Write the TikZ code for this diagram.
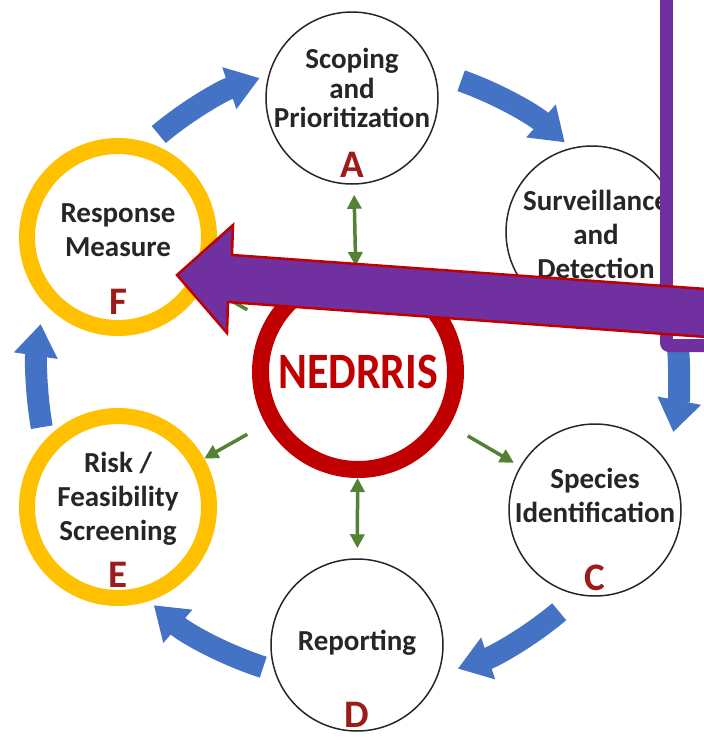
\documentclass[tikz,border=0pt]{standalone}
\usepackage{fontspec}
\setmainfont{Carlito}
\usetikzlibrary{arrows.meta}

\definecolor{cycblue}{HTML}{4472C4}
\definecolor{linkgreen}{HTML}{548235}
\definecolor{ringgold}{HTML}{FFC000}
\definecolor{hubred}{HTML}{C00000}
\definecolor{tagred}{HTML}{9E1B1B}
\definecolor{pointer}{HTML}{7030A0}
\definecolor{ink}{HTML}{262626}

\tikzset{
  stage/.style={circle, draw=black!85, line width=1.5pt, fill=white, minimum size=172pt, inner sep=0pt},
  picked/.style={circle, draw=ringgold, line width=16pt, fill=white, minimum size=182pt, inner sep=0pt},
  hubring/.style={circle, draw=hubred, line width=17pt, fill=white, minimum size=195pt, inner sep=0pt,
    text=hubred, text depth=0pt, font=\bfseries\fontsize{51}{51}\selectfont},
  stagetext/.style={align=center, text=ink, font=\bfseries\fontsize{29}{34}\selectfont},
  stagetag/.style={text=tagred, font=\bfseries\fontsize{39}{39}\selectfont},
  cyclearrow/.style={draw=cycblue, line width=22pt, -{Triangle[width=42pt,length=32pt]}},
  greenlink/.style={draw=linkgreen, line width=3.5pt, -{Triangle[width=14pt,length=14pt]}},
  twoway/.style={greenlink, {Triangle[width=14pt,length=14pt]}-{Triangle[width=14pt,length=14pt]}},
  panel/.style={fill=pointer, rounded corners=9pt},
  bigpointer/.style={fill=pointer, draw=hubred, line width=2.5pt, line join=miter}
}

\begin{document}
\begin{tikzpicture}[x=1pt,y=1pt]
    \useasboundingbox (0,0) rectangle (704,-742);
    \clip (0,0) rectangle (704,-742);
    \fill[white] (0,0) rectangle (704,-742);

    % stages round the hub
    \node[stage] (A) at (352,-98) {};
    \node[stage] (B) at (592,-232) {};
    \node[stage] (C) at (595,-510) {};
    \node[stage] (D) at (357,-645) {};
    \node[picked] (E) at (118,-507) {};
    \node[picked] (F) at (118,-237) {};
    \node[hubring] (hub) at (358,-372) {\scalebox{0.86}[1]{NEDRRIS}};

    \node[stagetext, font=\bfseries\fontsize{29}{29.5}\selectfont] (A-text) at ([yshift=10pt]A.center) {Scoping\\and\\Prioritization};
    \node[stagetext] (B-text) at ([xshift=4pt,yshift=-2pt]B.center) {Surveillance\\and\\Detection};
    \node[stagetext] (C-text) at ([yshift=15pt]C.center) {Species\\Identification};
    \node[stagetext] (D-text) at ([yshift=2pt]D.center) {Reporting};
    \node[stagetext] (E-text) at ([yshift=8pt]E.center) {Risk /\\Feasibility\\Screening};
    \node[stagetext] (F-text) at ([yshift=7pt]F.center) {Response\\Measure};

    \node[stagetag] (A-tag) at ([yshift=-67pt]A.center) {A};
    \node[stagetag] (C-tag) at ([yshift=-68pt]C.center) {C};
    \node[stagetag] (D-tag) at ([yshift=-70pt]D.center) {D};
    \node[stagetag] (E-tag) at ([yshift=-68pt]E.center) {E};
    \node[stagetag] (F-tag) at ([yshift=-65pt]F.center) {F};

    % blue cycle
    \draw[cyclearrow] ([shift={(130:310pt)}]hub.center) arc[start angle=130, end angle=108.5, radius=310pt];
    \draw[cyclearrow] ([shift={(70.5:309pt)}]hub.center) arc[start angle=70.5, end angle=48, radius=309pt];
    \draw[cyclearrow] ([shift={(4.5:321pt)}]hub.center) arc[start angle=4.5, end angle=-10.8, radius=321pt];
    \draw[cyclearrow] ([shift={(-50:313pt)}]hub.center) arc[start angle=-50, end angle=-71.4, radius=313pt];
    \draw[cyclearrow] ([shift={(-107.8:310pt)}]hub.center) arc[start angle=-107.8, end angle=-131.2, radius=310pt];
    \draw[cyclearrow] ([shift={(-170.1:321pt)}]hub.center) arc[start angle=-170.1, end angle=-188.6, radius=321pt];

    % green links from the hub
    \draw[twoway, shorten >=10pt] (hub) -- (A);
    \draw[twoway, shorten >=10pt] (hub) -- (D);
    \draw[greenlink, shorten <=21pt, shorten >=7pt] (hub) -- (B);
    \draw[greenlink, shorten <=21pt, shorten >=7pt] (hub) -- (C);
    \draw[greenlink, shorten <=21pt] (hub) -- (E);
    \draw[greenlink, shorten <=21pt] (hub) -- (F);

    % purple panel and pointer
    \path[panel] (660,-352) rectangle (740,20);
    \fill[white] (673,-339) rectangle (740,20);
    \path[bigpointer] (177,-275) -- (233,-225) -- (232,-255) -- (720,-290)
        -- (720,-338) -- (228,-302) -- (227,-333) -- cycle;
\end{tikzpicture}
\end{document}
